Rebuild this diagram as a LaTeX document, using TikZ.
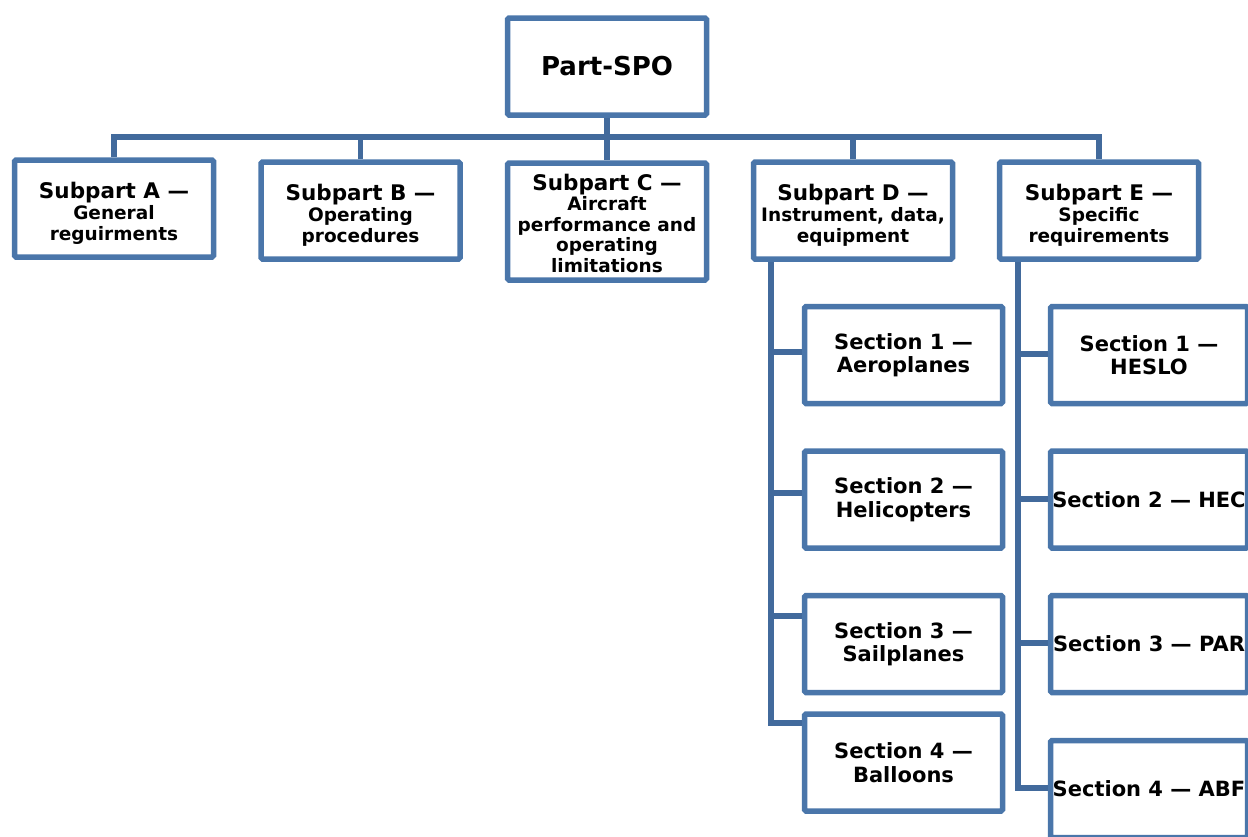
\documentclass[tikz,border=0pt]{standalone}
\usepackage{fontspec}
\setmainfont{DejaVu Sans}
\usetikzlibrary{calc}
\definecolor{boxblue}{RGB}{74,118,170}
\definecolor{linkblue}{RGB}{66,106,156}
\newcommand\hdsize{\fontsize{21.5}{22}\selectfont}
\newcommand\lnsize{\fontsize{18.5}{20.5}\selectfont}
\newcommand\secsize{\fontsize{21}{23.5}\selectfont}
\newcommand\lift[1]{\rule{0pt}{#1pt}}
\begin{document}
\begin{tikzpicture}[x=1pt,y=-1pt,
  box/.style={draw=boxblue, line width=5.5pt, rounded corners=1.5pt, fill=white,
    align=center, inner sep=0pt, font=\bfseries\lnsize, minimum width=199, minimum height=97},
  secbox/.style={box, font=\bfseries\secsize, minimum width=198, minimum height=97},
  conn/.style={draw=linkblue, line width=5.5pt}]
\useasboundingbox (0,0) rectangle (1248,836);
\clip (0,0) rectangle (1248,836);
% top
\node[box, font=\bfseries\fontsize{26}{30}\selectfont] (spo) at (607,66.5) {Part-SPO};
% subparts
\node[box] (sA) at (114,208.5) {{\hdsize\lift{25}Subpart A —}\\[1pt]General\\reguirments};
\node[box] (sB) at (360.5,210.5) {{\hdsize\lift{25}Subpart B —}\\[1pt]Operating\\procedures};
\node[box, minimum height=117] (sC) at (607,221.5) {{\hdsize\lift{20}Subpart C —}\\[0pt]Aircraft\\performance and\\operating\\limitations};
\node[box] (sD) at (853,210.5) {{\hdsize\lift{25}Subpart D —}\\[1pt]Instrument, data,\\equipment};
\node[box] (sE) at (1099,210.5) {{\hdsize\lift{25}Subpart E —}\\[1pt]Specific\\requirements};
% sections of D
\node[secbox] (d1) at (903.5,355) {Section 1 —\\Aeroplanes};
\node[secbox] (d2) at (903.5,499.5) {Section 2 —\\Helicopters};
\node[secbox] (d3) at (903.5,644) {Section 3 —\\Sailplanes};
\node[secbox] (d4) at (903.5,762.5) {Section 4 —\\Balloons};
% sections of E
\node[secbox, minimum width=197] (e1) at (1149,355) {Section 1 —\\HESLO};
\node[secbox, minimum width=197] (e2) at (1149,499.5) {Section 2 — HEC};
\node[secbox, minimum width=197] (e3) at (1149,644) {Section 3 — PAR};
\node[secbox, minimum width=197] (e4) at (1149,789) {Section 4 — ABF};
% bus
\coordinate (bus) at (0,137);
\draw[conn] (spo.south) -- (sC.north);
\draw[conn] (sA.north) -- (sA.north |- bus) -- (sE.north |- bus) -- (sE.north);
\draw[conn] (sB.north) -- (sB.north |- bus);
\draw[conn] (sD.north) -- (sD.north |- bus);
% D branches
\coordinate (dx) at (771,0);
\coordinate (d1b) at ($(d1.west)+(0,-3)$);
\coordinate (d2b) at ($(d2.west)+(0,-6.5)$);
\coordinate (d3b) at ($(d3.west)+(0,-28)$);
\coordinate (d4b) at ($(d4.west)+(0,-39.5)$);
\draw[conn] (sD.south -| dx) |- (d4b);
\draw[conn] (d1b -| dx) -- (d1b);
\draw[conn] (d2b -| dx) -- (d2b);
\draw[conn] (d3b -| dx) -- (d3b);
% E branches
\coordinate (ex) at (1018,0);
\coordinate (e1b) at ($(e1.west)+(0,-1)$);
\coordinate (e2b) at ($(e2.west)+(0,-0.5)$);
\coordinate (e3b) at ($(e3.west)+(0,-1)$);
\coordinate (e4b) at ($(e4.west)+(0,-1)$);
\draw[conn] (sE.south -| ex) |- (e4b);
\draw[conn] (e1b -| ex) -- (e1b);
\draw[conn] (e2b -| ex) -- (e2b);
\draw[conn] (e3b -| ex) -- (e3b);
\end{tikzpicture}
\end{document}
